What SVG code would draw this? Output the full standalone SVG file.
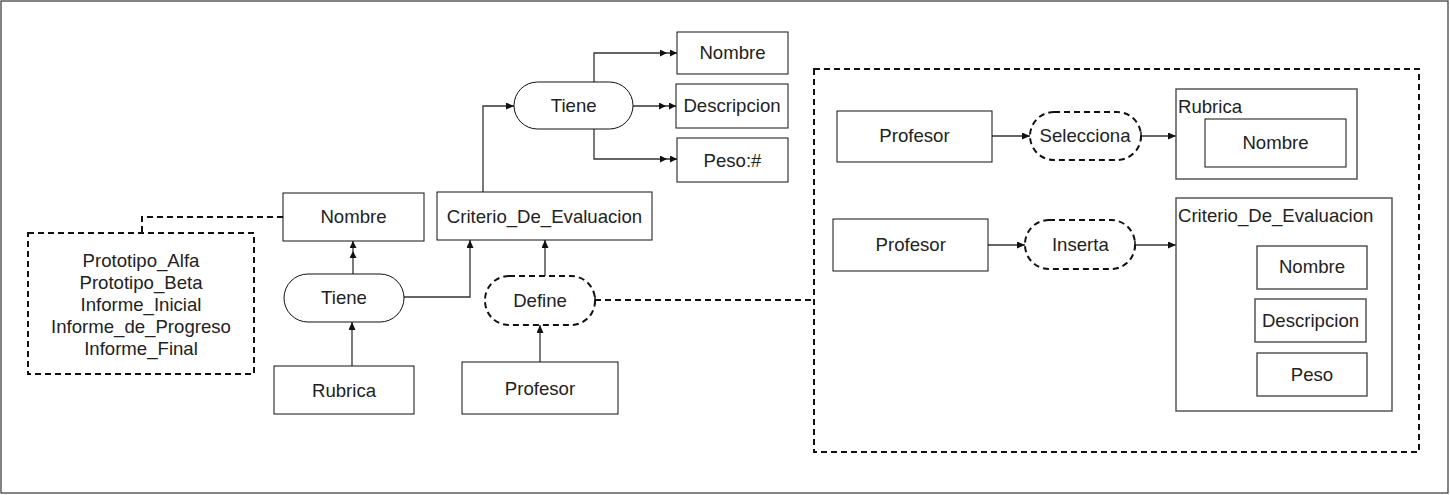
<svg xmlns="http://www.w3.org/2000/svg" width="1450" height="495" viewBox="0 0 1450 495">
<style>
  .n { fill: #ffffff; stroke: #111; stroke-width: 1; }
  .g { fill: #ffffff; stroke: #555; stroke-width: 1.5; }
  .d { fill: none; stroke: #111; stroke-width: 2; stroke-dasharray: 6 4; }
  .c { fill: none; stroke: #333; stroke-width: 1.3; }
  .t { font-family: "Liberation Sans", Arial, sans-serif; font-size: 18.6px; fill: #222; text-anchor: middle; }
  .tl { font-family: "Liberation Sans", Arial, sans-serif; font-size: 18.6px; fill: #222; text-anchor: start; }
</style>
<defs>
  <marker id="arr" markerUnits="userSpaceOnUse" viewBox="0 0 8 7" refX="8" refY="3.5" markerWidth="8" markerHeight="7" orient="auto">
    <path d="M0,0 L8,3.5 L0,7 z" fill="#111"/>
  </marker>
  <marker id="arr2" markerUnits="userSpaceOnUse" viewBox="0 0 17 7" refX="17" refY="3.5" markerWidth="17" markerHeight="7" orient="auto">
    <path d="M10,0 L17,3.5 L10,7 z M0,0 L7,3.5 L0,7 z" fill="#111"/>
  </marker>
  <marker id="tick" markerUnits="userSpaceOnUse" viewBox="0 0 2 8" refX="1" refY="4" markerWidth="2" markerHeight="8" orient="auto">
    <path d="M1,0 L1,8" stroke="#111" stroke-width="1.5"/>
  </marker>
</defs>

<rect id="frame" x="1" y="1" width="1447" height="492" fill="#ffffff" stroke="#333" stroke-width="1.2"/>

<g id="connectors">
  <path class="d" d="M283,217 H142 V233"/>
  <path class="c" d="M353,274 V241" marker-end="url(#arr2)"/>
  <path class="c" d="M352,366 V322" marker-end="url(#arr)"/>
  <path class="c" d="M404,297 H470 V240" marker-end="url(#arr)"/>
  <path class="c" d="M545,276 V240" marker-end="url(#arr)"/>
  <path class="c" d="M540,362 V325" marker-end="url(#arr)"/>
  <path class="d" d="M595,300 H814" marker-start="url(#tick)"/>
  <path class="c" d="M483,192 V106 H514" marker-end="url(#arr)"/>
  <path class="c" d="M594,82 V53 H677" marker-end="url(#arr2)"/>
  <path class="c" d="M633,106 H676" marker-end="url(#arr2)"/>
  <path class="c" d="M594,129 V159 H677" marker-end="url(#arr2)"/>
  <path class="c" d="M992,136 H1030" marker-end="url(#arr)"/>
  <path class="c" d="M1141,136 H1176" marker-start="url(#tick)" marker-end="url(#arr)"/>
  <path class="c" d="M988,245 H1025" marker-end="url(#arr)"/>
  <path class="c" d="M1135,245 H1176" marker-start="url(#tick)" marker-end="url(#arr)"/>
</g>

<g id="valores">
  <rect class="d" x="28" y="233" width="226" height="141" fill="#ffffff"/>
  <text class="t" x="141" y="267.3">Prototipo_Alfa</text>
  <text class="t" x="141" y="289">Prototipo_Beta</text>
  <text class="t" x="141" y="310.7">Informe_Inicial</text>
  <text class="t" x="141" y="332.7">Informe_de_Progreso</text>
  <text class="t" x="141" y="354.7">Informe_Final</text>
</g>

<g id="nombre1">
  <rect class="n" x="283" y="193" width="141" height="48"/>
  <text class="t" x="353.5" y="223">Nombre</text>
</g>
<g id="tiene1">
  <rect class="n" x="284" y="274" width="120" height="48" rx="24" ry="24"/>
  <text class="t" x="344" y="304">Tiene</text>
</g>
<g id="rubrica1">
  <rect class="n" x="274" y="366" width="140" height="48"/>
  <text class="t" x="344" y="396.5">Rubrica</text>
</g>
<g id="criterio1">
  <rect class="n" x="437" y="192" width="215" height="48"/>
  <text class="t" x="544.5" y="222.7">Criterio_De_Evaluacion</text>
</g>
<g id="define">
  <rect class="d" x="485" y="276" width="110" height="49" rx="24" ry="24" fill="#ffffff"/>
  <text class="t" x="540" y="306.7">Define</text>
</g>
<g id="profesor1">
  <rect class="n" x="462" y="362" width="156" height="52"/>
  <text class="t" x="540" y="395">Profesor</text>
</g>
<g id="tiene2">
  <rect class="n" x="514" y="82" width="119" height="47" rx="23.5" ry="23.5"/>
  <text class="t" x="573.7" y="111.7">Tiene</text>
</g>
<g id="nombre2">
  <rect class="n" x="677" y="32" width="111" height="42"/>
  <text class="t" x="732.5" y="59.3">Nombre</text>
</g>
<g id="descripcion2">
  <rect class="n" x="676" y="84" width="112" height="44"/>
  <text class="t" x="732" y="112.3">Descripcion</text>
</g>
<g id="peso2">
  <rect class="n" x="677" y="138" width="111" height="44"/>
  <text class="t" x="732.5" y="166.7">Peso:#</text>
</g>

<g id="detalle">
  <rect class="d" x="814" y="69" width="605" height="383"/>
</g>
<g id="profesor2">
  <rect class="n" x="837" y="111" width="155" height="51"/>
  <text class="t" x="914.5" y="142.3">Profesor</text>
</g>
<g id="selecciona">
  <rect class="d" x="1030" y="112" width="111" height="48" rx="24" ry="24" fill="#ffffff"/>
  <text class="t" x="1085" y="142.3">Selecciona</text>
</g>
<g id="rubrica2">
  <rect class="g" x="1176" y="89" width="181" height="90"/>
  <text class="tl" x="1178" y="112.7">Rubrica</text>
  <g id="nombre3">
    <rect class="n" x="1205" y="119" width="141" height="48"/>
    <text class="t" x="1275.5" y="149.3">Nombre</text>
  </g>
</g>
<g id="profesor3">
  <rect class="n" x="833" y="219" width="155" height="52"/>
  <text class="t" x="910.7" y="250.7">Profesor</text>
</g>
<g id="inserta">
  <rect class="d" x="1025" y="220" width="110" height="49" rx="24" ry="24" fill="#ffffff"/>
  <text class="t" x="1080.3" y="250.7">Inserta</text>
</g>
<g id="criterio2">
  <rect class="g" x="1176" y="198" width="216" height="213"/>
  <text class="tl" x="1178" y="221.7">Criterio_De_Evaluacion</text>
  <g id="nombre4">
    <rect class="g" x="1257" y="246" width="110" height="43"/>
    <text class="t" x="1312" y="273.3">Nombre</text>
  </g>
  <g id="descripcion4">
    <rect class="g" x="1255" y="299" width="111" height="43"/>
    <text class="t" x="1310.5" y="327.3">Descripcion</text>
  </g>
  <g id="peso4">
    <rect class="g" x="1257" y="353" width="110" height="43"/>
    <text class="t" x="1312" y="380.7">Peso</text>
  </g>
</g>
</svg>
